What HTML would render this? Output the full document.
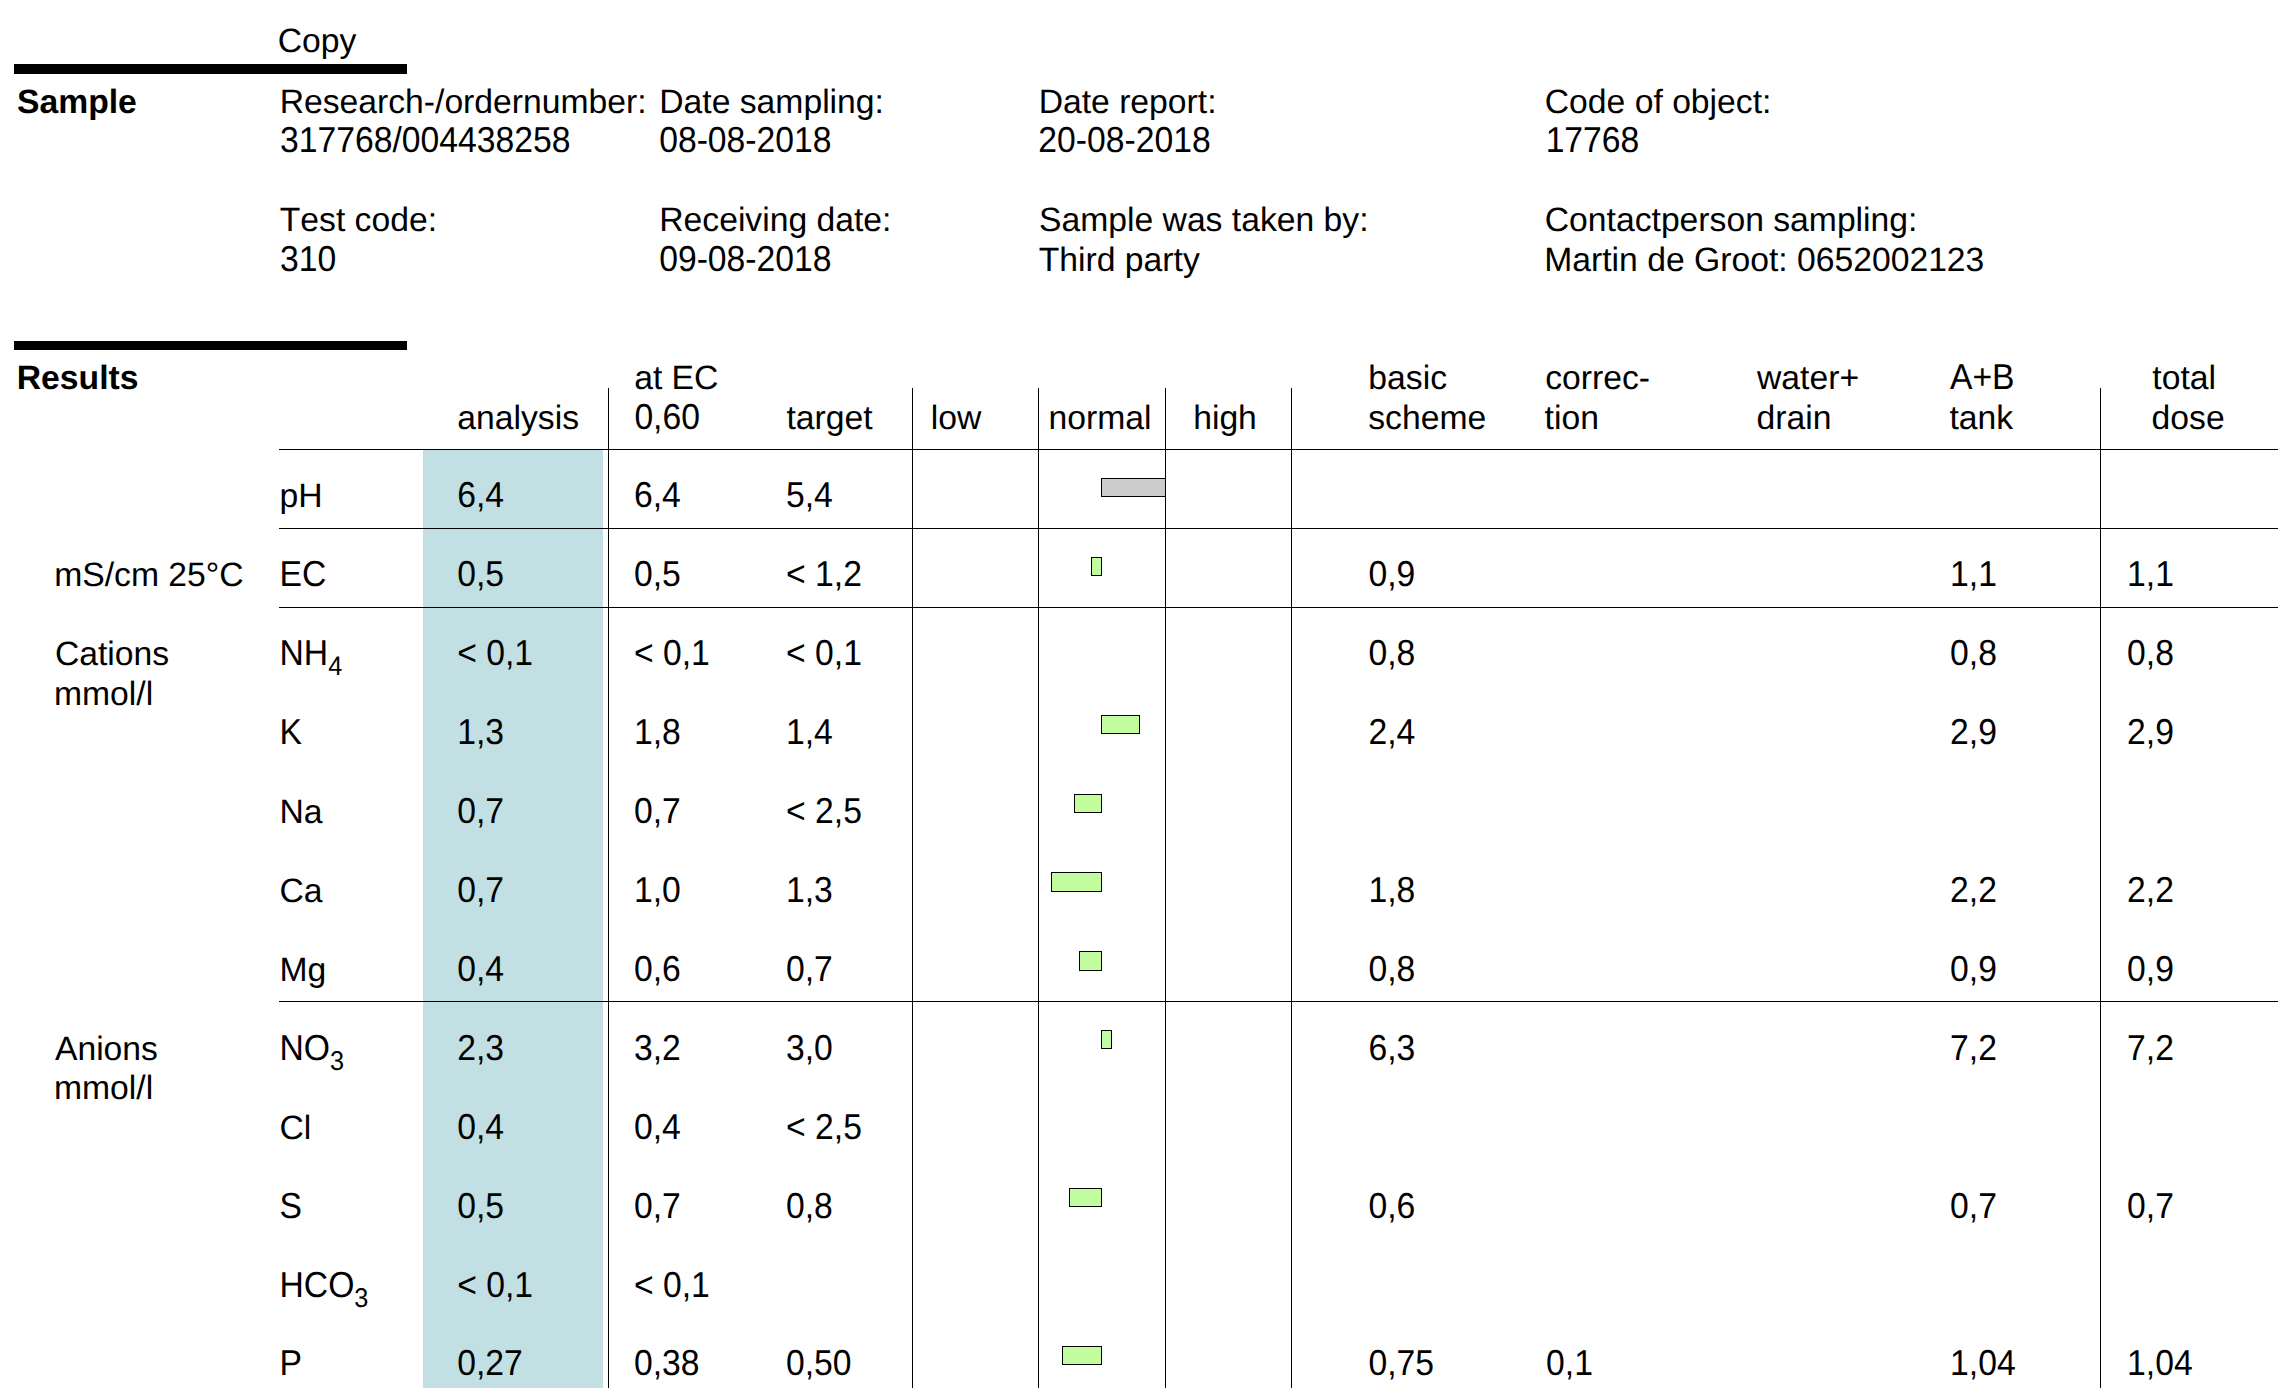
<!DOCTYPE html>
<html><head><meta charset="utf-8"><title>Sample report</title>
<style>
html,body{margin:0;padding:0;background:#fff}
#pg{position:relative;width:2292px;height:1388px;overflow:hidden;background:#fff;font-family:"Liberation Sans",sans-serif;color:#000}
.t{position:absolute;font-size:33.7px;line-height:40px;height:40px;white-space:nowrap;font-kerning:none;font-variant-ligatures:none;text-rendering:geometricPrecision}
.n{transform:scaleY(1.07);transform-origin:0 31px}
.b{font-weight:bold}
.s{font-size:25.3px;position:relative;top:8.7px;line-height:0}
.k{position:absolute;background:#000}
.blue{position:absolute;background:#c2e0e3}
.bar{position:absolute;border:1px solid #000;background:#c3fc9e}
</style></head><body><div id="pg">
<div class="blue" style="left:423px;top:450px;width:180px;height:938px"></div>
<div class="k" style="left:14px;top:64px;width:393px;height:10px"></div>
<div class="k" style="left:14px;top:341px;width:393px;height:9px"></div>
<div class="k" style="left:279px;top:449px;width:1999px;height:1px"></div>
<div class="k" style="left:279px;top:528px;width:1999px;height:1px"></div>
<div class="k" style="left:279px;top:607px;width:1999px;height:1px"></div>
<div class="k" style="left:279px;top:1001px;width:1999px;height:1px"></div>
<div class="k" style="left:608px;top:388px;width:1px;height:1000px"></div>
<div class="k" style="left:912px;top:388px;width:1px;height:1000px"></div>
<div class="k" style="left:1038px;top:388px;width:1px;height:1000px"></div>
<div class="k" style="left:1165px;top:388px;width:1px;height:1000px"></div>
<div class="k" style="left:1291px;top:388px;width:1px;height:1000px"></div>
<div class="k" style="left:2100px;top:388px;width:1px;height:1000px"></div>
<div class="bar" style="left:1101px;top:478px;width:63px;height:17px;background:#ccc"></div>
<div class="bar" style="left:1091px;top:557px;width:9px;height:17px"></div>
<div class="bar" style="left:1101px;top:715px;width:37px;height:17px"></div>
<div class="bar" style="left:1074px;top:794px;width:26px;height:17px"></div>
<div class="bar" style="left:1051px;top:872px;width:49px;height:18px"></div>
<div class="bar" style="left:1079px;top:951px;width:21px;height:18px"></div>
<div class="bar" style="left:1101px;top:1030px;width:9px;height:17px"></div>
<div class="bar" style="left:1069px;top:1188px;width:31px;height:17px"></div>
<div class="bar" style="left:1062px;top:1346px;width:38px;height:17px"></div>
<div class="t" style="left:279.50px;top:476px">pH</div>
<div class="t n" style="left:457.20px;top:476px">6,4</div>
<div class="t n" style="left:633.90px;top:476px">6,4</div>
<div class="t n" style="left:786.00px;top:476px">5,4</div>
<div class="t n" style="left:279.50px;top:555px">EC</div>
<div class="t n" style="left:457.20px;top:555px">0,5</div>
<div class="t n" style="left:633.90px;top:555px">0,5</div>
<div class="t n" style="left:786.00px;top:555px">< 1,2</div>
<div class="t n" style="left:1368.40px;top:555px">0,9</div>
<div class="t n" style="left:1950.10px;top:555px">1,1</div>
<div class="t n" style="left:2127.10px;top:555px">1,1</div>
<div class="t n" style="left:279.50px;top:634px">NH<span class="s">4</span></div>
<div class="t n" style="left:457.20px;top:634px">< 0,1</div>
<div class="t n" style="left:633.90px;top:634px">< 0,1</div>
<div class="t n" style="left:786.00px;top:634px">< 0,1</div>
<div class="t n" style="left:1368.40px;top:634px">0,8</div>
<div class="t n" style="left:1950.10px;top:634px">0,8</div>
<div class="t n" style="left:2127.10px;top:634px">0,8</div>
<div class="t n" style="left:279.50px;top:713px">K</div>
<div class="t n" style="left:457.20px;top:713px">1,3</div>
<div class="t n" style="left:633.90px;top:713px">1,8</div>
<div class="t n" style="left:786.00px;top:713px">1,4</div>
<div class="t n" style="left:1368.40px;top:713px">2,4</div>
<div class="t n" style="left:1950.10px;top:713px">2,9</div>
<div class="t n" style="left:2127.10px;top:713px">2,9</div>
<div class="t" style="left:279.50px;top:792px">Na</div>
<div class="t n" style="left:457.20px;top:792px">0,7</div>
<div class="t n" style="left:633.90px;top:792px">0,7</div>
<div class="t n" style="left:786.00px;top:792px">< 2,5</div>
<div class="t" style="left:279.50px;top:871px">Ca</div>
<div class="t n" style="left:457.20px;top:871px">0,7</div>
<div class="t n" style="left:633.90px;top:871px">1,0</div>
<div class="t n" style="left:786.00px;top:871px">1,3</div>
<div class="t n" style="left:1368.40px;top:871px">1,8</div>
<div class="t n" style="left:1950.10px;top:871px">2,2</div>
<div class="t n" style="left:2127.10px;top:871px">2,2</div>
<div class="t" style="left:279.50px;top:950px">Mg</div>
<div class="t n" style="left:457.20px;top:950px">0,4</div>
<div class="t n" style="left:633.90px;top:950px">0,6</div>
<div class="t n" style="left:786.00px;top:950px">0,7</div>
<div class="t n" style="left:1368.40px;top:950px">0,8</div>
<div class="t n" style="left:1950.10px;top:950px">0,9</div>
<div class="t n" style="left:2127.10px;top:950px">0,9</div>
<div class="t n" style="left:279.50px;top:1029px">NO<span class="s">3</span></div>
<div class="t n" style="left:457.20px;top:1029px">2,3</div>
<div class="t n" style="left:633.90px;top:1029px">3,2</div>
<div class="t n" style="left:786.00px;top:1029px">3,0</div>
<div class="t n" style="left:1368.40px;top:1029px">6,3</div>
<div class="t n" style="left:1950.10px;top:1029px">7,2</div>
<div class="t n" style="left:2127.10px;top:1029px">7,2</div>
<div class="t" style="left:279.50px;top:1108px">Cl</div>
<div class="t n" style="left:457.20px;top:1108px">0,4</div>
<div class="t n" style="left:633.90px;top:1108px">0,4</div>
<div class="t n" style="left:786.00px;top:1108px">< 2,5</div>
<div class="t n" style="left:279.50px;top:1187px">S</div>
<div class="t n" style="left:457.20px;top:1187px">0,5</div>
<div class="t n" style="left:633.90px;top:1187px">0,7</div>
<div class="t n" style="left:786.00px;top:1187px">0,8</div>
<div class="t n" style="left:1368.40px;top:1187px">0,6</div>
<div class="t n" style="left:1950.10px;top:1187px">0,7</div>
<div class="t n" style="left:2127.10px;top:1187px">0,7</div>
<div class="t n" style="left:279.50px;top:1266px">HCO<span class="s">3</span></div>
<div class="t n" style="left:457.20px;top:1266px">< 0,1</div>
<div class="t n" style="left:633.90px;top:1266px">< 0,1</div>
<div class="t n" style="left:279.50px;top:1344px">P</div>
<div class="t n" style="left:457.20px;top:1344px">0,27</div>
<div class="t n" style="left:633.90px;top:1344px">0,38</div>
<div class="t n" style="left:786.00px;top:1344px">0,50</div>
<div class="t n" style="left:1368.40px;top:1344px">0,75</div>
<div class="t n" style="left:1546.10px;top:1344px">0,1</div>
<div class="t n" style="left:1950.10px;top:1344px">1,04</div>
<div class="t n" style="left:2127.10px;top:1344px">1,04</div>
<div class="t" style="left:277.79px;top:21px">Copy</div>
<div class="t b" style="left:17.03px;top:82px">Sample</div>
<div class="t" style="left:279.64px;top:82px">Research-/ordernumber:</div>
<div class="t n" style="left:280.02px;top:121px">317768/004438258</div>
<div class="t" style="left:279.74px;top:200px">Test code:</div>
<div class="t n" style="left:280.02px;top:240px">310</div>
<div class="t" style="left:659.24px;top:82px">Date sampling:</div>
<div class="t n" style="left:659.18px;top:121px">08-08-2018</div>
<div class="t" style="left:659.24px;top:200px">Receiving date:</div>
<div class="t n" style="left:659.18px;top:240px">09-08-2018</div>
<div class="t" style="left:1038.64px;top:82px">Date report:</div>
<div class="t n" style="left:1038.31px;top:121px">20-08-2018</div>
<div class="t" style="left:1038.97px;top:200px">Sample was taken by:</div>
<div class="t" style="left:1038.74px;top:240px">Third party</div>
<div class="t" style="left:1544.79px;top:82px">Code of object:</div>
<div class="t n" style="left:1545.63px;top:121px">17768</div>
<div class="t" style="left:1544.79px;top:200px">Contactperson sampling:</div>
<div class="t" style="left:1544.24px;top:240px">Martin de Groot: 0652002123</div>
<div class="t b" style="left:16.75px;top:358px">Results</div>
<div class="t" style="left:634.17px;top:358px">at EC</div>
<div class="t n" style="left:634.38px;top:398px">0,60</div>
<div class="t" style="left:457.27px;top:398px">analysis</div>
<div class="t" style="left:786.39px;top:398px">target</div>
<div class="t" style="left:930.83px;top:398px">low</div>
<div class="t" style="left:1048.56px;top:398px">normal</div>
<div class="t" style="left:1193.16px;top:398px">high</div>
<div class="t" style="left:1368.33px;top:358px">basic</div>
<div class="t" style="left:1368.26px;top:398px">scheme</div>
<div class="t" style="left:1545.17px;top:358px">correc-</div>
<div class="t" style="left:1544.59px;top:398px">tion</div>
<div class="t" style="left:1757.05px;top:358px">water+</div>
<div class="t" style="left:1756.48px;top:398px">drain</div>
<div class="t n" style="left:1949.93px;top:358px">A+B</div>
<div class="t" style="left:1949.49px;top:398px">tank</div>
<div class="t" style="left:2152.29px;top:358px">total</div>
<div class="t" style="left:2151.58px;top:398px">dose</div>
<div class="t" style="left:54.16px;top:555px">mS/cm 25°C</div>
<div class="t" style="left:54.89px;top:634px">Cations</div>
<div class="t" style="left:53.96px;top:674px">mmol/l</div>
<div class="t" style="left:54.93px;top:1029px">Anions</div>
<div class="t" style="left:53.96px;top:1068px">mmol/l</div>
</div></body></html>
